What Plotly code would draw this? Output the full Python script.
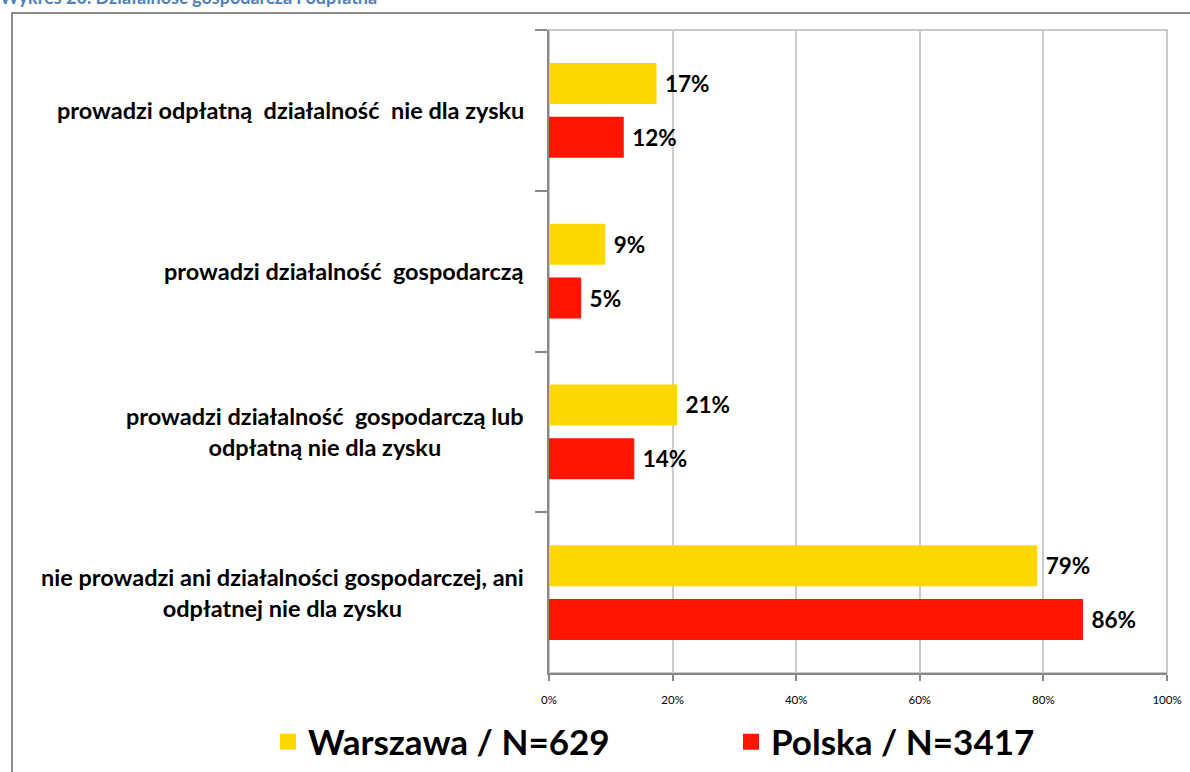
import plotly.graph_objects as go

categories = [
    "prowadzi odpłatną  działalność  nie dla zysku",
    "prowadzi działalność  gospodarczą",
    "prowadzi działalność  gospodarczą lub<br>odpłatną nie dla zysku",
    "nie prowadzi ani działalności gospodarczej, ani<br>odpłatnej nie dla zysku",
]
cat_ids = ["c1", "c2", "c3", "c4"]
warszawa = [17.4, 9.1, 20.7, 79.0]
polska = [12.1, 5.2, 13.8, 86.4]
series_names = ["Warszawa / N=629", "Polska / N=3417"]
colors = ["#FFD700", "#FF1400"]
x_ticks = [0, 20, 40, 60, 80, 100]
x_ticklabels = ["0%", "20%", "40%", "60%", "80%", "100%"]
title_text = "Wykres 20. Działalność gospodarcza i odpłatna"

W, H = 1190, 772
L, R, T, B = 549, 23, 30, 99
pw, ph = W - L - R, H - T - B


def px(xp):
    return (xp - L) / pw


def py(yp):
    return (H - B - yp) / ph


FONT = "Lato"
fig = go.Figure()
for name, vals, col in zip(series_names, [warszawa, polska], colors):
    fig.add_trace(go.Bar(
        y=cat_ids, x=vals, orientation="h", name=name,
        marker=dict(color=col, line=dict(width=0)),
        texttemplate=" %{x:.0f}%", textposition="outside",
        textfont=dict(family=FONT, size=22.5, color="black", weight="bold"),
        cliponaxis=False, showlegend=False,
    ))
    fig.add_trace(go.Scatter(
        x=[None], y=[None], mode="markers", name=name,
        marker=dict(symbol="square", size=16, color=col),
    ))

for cid, lab in zip(cat_ids, categories):
    fig.add_annotation(
        x=px(526), xref="paper", y=cid, yref="y", text=lab, showarrow=False,
        xanchor="right", align="center",
        font=dict(family=FONT, size=23.5, color="black", weight="bold"),
    )

fig.add_annotation(
    x=px(-2), xref="paper", y=py(-3), yref="paper", text=title_text, showarrow=False,
    xanchor="left", yanchor="middle",
    font=dict(family=FONT, size=18, color="#4F81BD", weight="bold"),
)

# outer frame
fig.add_shape(type="rect", xref="paper", yref="paper",
              x0=px(12), x1=px(1200), y0=py(790), y1=py(13),
              line=dict(color="#8c8c8c", width=2), layer="below")
# plot area frame
fig.add_shape(type="rect", xref="paper", yref="paper",
              x0=0, x1=1, y0=0, y1=1,
              line=dict(color="#c8c8c8", width=2), layer="below")

fig.update_layout(
    width=W, height=H,
    margin=dict(l=L, r=R, t=T, b=B, pad=0, autoexpand=False),
    paper_bgcolor="white", plot_bgcolor="white",
    barmode="group", bargap=0.33, bargroupgap=0.24,
    font=dict(family=FONT, color="black"),
    legend=dict(
        orientation="h", x=px(268), y=py(742), xanchor="left", yanchor="middle",
        font=dict(family=FONT, size=35, color="black", weight="bold"),
        entrywidth=418, entrywidthmode="pixels", itemsizing="trace",
        bgcolor="rgba(0,0,0,0)",
    ),
    xaxis=dict(
        range=[0, 100], tickvals=x_ticks, ticktext=x_ticklabels,
        showgrid=True, gridcolor="#cccccc", gridwidth=1.5,
        showline=True, linecolor="#888888", linewidth=2,
        ticks="outside", ticklen=6, tickcolor="#888888", tickwidth=1.5,
        ticklabelstandoff=9,
        tickfont=dict(family=FONT, size=11.5, color="black"),
        zeroline=False, fixedrange=True,
    ),
    yaxis=dict(
        type="category", categoryorder="array", categoryarray=cat_ids,
        autorange="reversed", showticklabels=False,
        tickson="boundaries", ticks="outside", ticklen=12,
        tickcolor="#888888", tickwidth=1.5,
        showline=True, linecolor="#888888", linewidth=2,
        showgrid=False, zeroline=False,
    ),
)

fig.write_html("out.html", config={"displayModeBar": False},
               post_script="document.body.style.margin='0';")
